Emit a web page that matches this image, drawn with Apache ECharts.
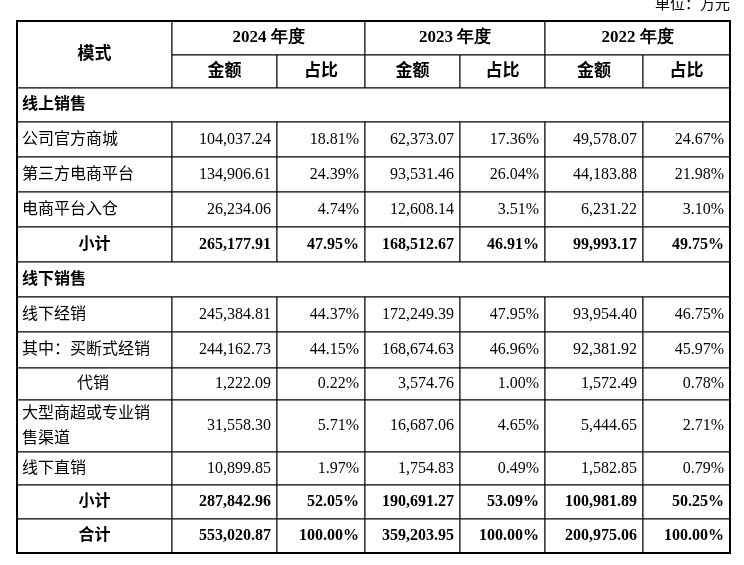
<!DOCTYPE html>
<html><head><meta charset="utf-8">
<script src="https://cdn.jsdelivr.net/npm/echarts@6/dist/echarts.min.js"></script>
<style>html,body{margin:0;padding:0;background:#fff}#c{width:744px;height:565px}</style>
</head><body><div id="c"></div>
<script>
const unitLabel = '单位：万元';
const years = ['2024 年度', '2023 年度', '2022 年度'];
const subHeaders = ['金额', '占比'];
const modeHeader = '模式';
const onlineTitle = '线上销售';
const offlineTitle = '线下销售';
const onlineRows = ['公司官方商城', '第三方电商平台', '电商平台入仓'];
const onlineValues = [
  ['104,037.24','18.81%','62,373.07','17.36%','49,578.07','24.67%'],
  ['134,906.61','24.39%','93,531.46','26.04%','44,183.88','21.98%'],
  ['26,234.06','4.74%','12,608.14','3.51%','6,231.22','3.10%']
];
const onlineSubtotal = ['265,177.91','47.95%','168,512.67','46.91%','99,993.17','49.75%'];
const offlineRows = ['线下经销', '其中：买断式经销', '代销', '大型商超或专业销\n售渠道', '线下直销'];
const offlineValues = [
  ['245,384.81','44.37%','172,249.39','47.95%','93,954.40','46.75%'],
  ['244,162.73','44.15%','168,674.63','46.96%','92,381.92','45.97%'],
  ['1,222.09','0.22%','3,574.76','1.00%','1,572.49','0.78%'],
  ['31,558.30','5.71%','16,687.06','4.65%','5,444.65','2.71%'],
  ['10,899.85','1.97%','1,754.83','0.49%','1,582.85','0.79%']
];
const offlineSubtotal = ['287,842.96','52.05%','190,691.27','53.09%','100,981.89','50.25%'];
const subtotalLabel = '小计';
const totalLabel = '合计';
const totalValues = ['553,020.87','100.00%','359,203.95','100.00%','200,975.06','100.00%'];

// layout
const colW = [155,105,88,95,85,98,87];
const rowH = [34,33,34,35,35,35,35,35,35,36,32,52,33,34,34];
const colX = [0]; colW.forEach(w=>colX.push(colX[colX.length-1]+w));
const rowY = [0]; rowH.forEach(h=>rowY.push(rowY[rowY.length-1]+h));

const cells = [];
function cell(c0,c1,r0,r1,text,align,bold,indent,size){cells.push([colX[c0],colX[c1],rowY[r0],rowY[r1],text,align,bold?1:0,indent||0,size||16]);}
cell(0,1,0,2,modeHeader,'center',1,0,17);
years.forEach((y,i)=>{cell(1+2*i,3+2*i,0,1,y,'center',1,0,17);subHeaders.forEach((s,j)=>cell(1+2*i+j,2+2*i+j,1,2,s,'center',1,0,17));});
let r=2;
cell(0,7,r,r+1,onlineTitle,'left',1); r++;
onlineRows.forEach((n,i)=>{cell(0,1,r,r+1,n,'left',0);onlineValues[i].forEach((v,j)=>cell(1+j,2+j,r,r+1,v,'right',0));r++;});
cell(0,1,r,r+1,subtotalLabel,'center',1);onlineSubtotal.forEach((v,j)=>cell(1+j,2+j,r,r+1,v,'right',1));r++;
cell(0,7,r,r+1,offlineTitle,'left',1); r++;
offlineRows.forEach((n,i)=>{cell(0,1,r,r+1,n,'left',0,i===2?55:0);offlineValues[i].forEach((v,j)=>cell(1+j,2+j,r,r+1,v,'right',0));r++;});
cell(0,1,r,r+1,subtotalLabel,'center',1);offlineSubtotal.forEach((v,j)=>cell(1+j,2+j,r,r+1,v,'right',1));r++;
cell(0,1,r,r+1,totalLabel,'center',1);totalValues.forEach((v,j)=>cell(1+j,2+j,r,r+1,v,'right',1));

const chart = echarts.init(document.getElementById('c'));
chart.setOption({
  animation:false,
  grid:{left:17,right:14,top:21,bottom:12},
  xAxis:{type:'value',min:0,max:colX[colX.length-1],show:false},
  yAxis:{type:'value',min:0,max:rowY[rowY.length-1],inverse:true,show:false},
  graphic:[{type:'text',right:14,top:-4,style:{text:unitLabel,font:'15px "Noto Sans CJK SC"',fill:'#000'}}],
  series:[{
    type:'custom',
    data:cells,
    encode:{x:[0,1],y:[2,3]},
    renderItem:function(params,api){
      const p0=api.coord([api.value(0),api.value(2)]);
      const p1=api.coord([api.value(1),api.value(3)]);
      const d=cells[params.dataIndex];
      const align=d[5], bold=d[6], indent=d[7], size=d[8];
      const isNum=/^[0-9]/.test(d[4]);
      const font=(bold?'bold ':'')+size+'px '+(isNum?'"Liberation Serif"':'"Liberation Serif","Noto Sans CJK SC"');
      let tx = align==='left'? p0[0]+5+indent : align==='right'? p1[0]-6 : (p0[0]+p1[0])/2;
      return {type:'group',children:[
        {type:'rect',shape:{x:p0[0],y:p0[1],width:p1[0]-p0[0],height:p1[1]-p0[1]},style:{fill:'#fff',stroke:'#000',lineWidth:1}},
        {type:'text',x:tx,y:(p0[1]+p1[1])/2,style:{text:d[4],font:font,fill:'#000',align:align,verticalAlign:'middle',lineHeight:25}}
      ]};
    }
  },{
    type:'custom',data:[[0,colX[7],0,rowY[rowY.length-1]]],encode:{x:[0,1],y:[2,3]},z:5,
    renderItem:function(params,api){
      const p0=api.coord([api.value(0),api.value(2)]);const p1=api.coord([api.value(1),api.value(3)]);
      return {type:'rect',shape:{x:p0[0],y:p0[1],width:p1[0]-p0[0],height:p1[1]-p0[1]},style:{fill:'none',stroke:'#000',lineWidth:2}};
    }
  }]
});
</script></body></html>
